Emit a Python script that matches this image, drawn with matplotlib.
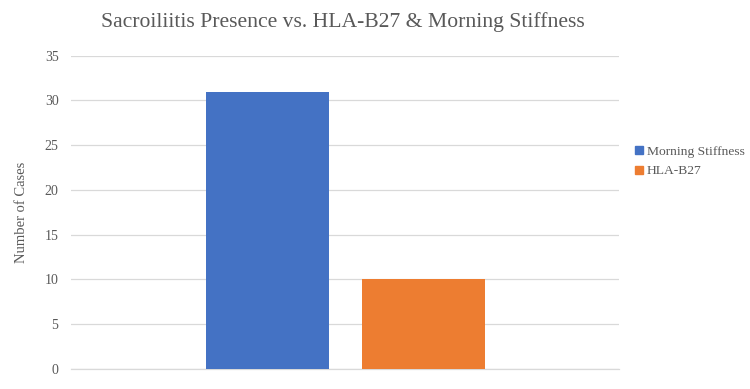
import matplotlib
matplotlib.use("Agg")
import matplotlib.pyplot as plt
from matplotlib.lines import Line2D

series = ["Morning Stiffness", "HLA-B27"]
values = [31, 10]
colors = ["#4472C4", "#ED7D31"]
yticks = [0, 5, 10, 15, 20, 25, 30, 35]

plt.rcParams['font.family'] = ['Liberation Serif', 'DejaVu Serif']
txt = "#595959"

fig = plt.figure(figsize=(7.5, 3.89), dpi=100)
ax = fig.add_axes([71/750, 1-369/389, 548/750, (369-55.7)/389])

pos = [0, 1]
for p, v, c, n in zip(pos, values, colors, series):
    ax.bar(p, v, width=0.79, color=c, label=n, zorder=3)

ax.set_xlim(-1.26, 2.253)
ax.set_ylim(0, 35)
ax.set_yticks(yticks)
ax.set_xticks([])
ax.grid(axis='y', color="#D9D9D9", linewidth=0.9, zorder=0)
for s in ["top", "right", "left"]:
    ax.spines[s].set_visible(False)
ax.spines["bottom"].set_color("#D9D9D9")
ax.spines["bottom"].set_linewidth(0.9)
ax.tick_params(axis='y', length=0, labelsize=10, labelcolor=txt, pad=9)
ax.set_ylabel("Number of Cases", fontsize=10.5, color=txt, labelpad=12)

fig.text(343/750, 1-22.5/389, "Sacroiliitis Presence vs. HLA-B27 & Morning Stiffness",
         ha='center', va='center', fontsize=15.6, color=txt)

handles = [Line2D([], [], marker='s', linestyle='none', markersize=6,
                  markerfacecolor=c, markeredgecolor=c) for c in colors]
leg = fig.legend(handles, series, loc='center left',
                 bbox_to_anchor=(627/750, 1-161.5/389), frameon=False,
                 fontsize=9.7, handletextpad=0.15, labelspacing=0.5,
                 handlelength=0.8, labelcolor=txt, borderpad=0)

fig.savefig("out.png", dpi=100)
